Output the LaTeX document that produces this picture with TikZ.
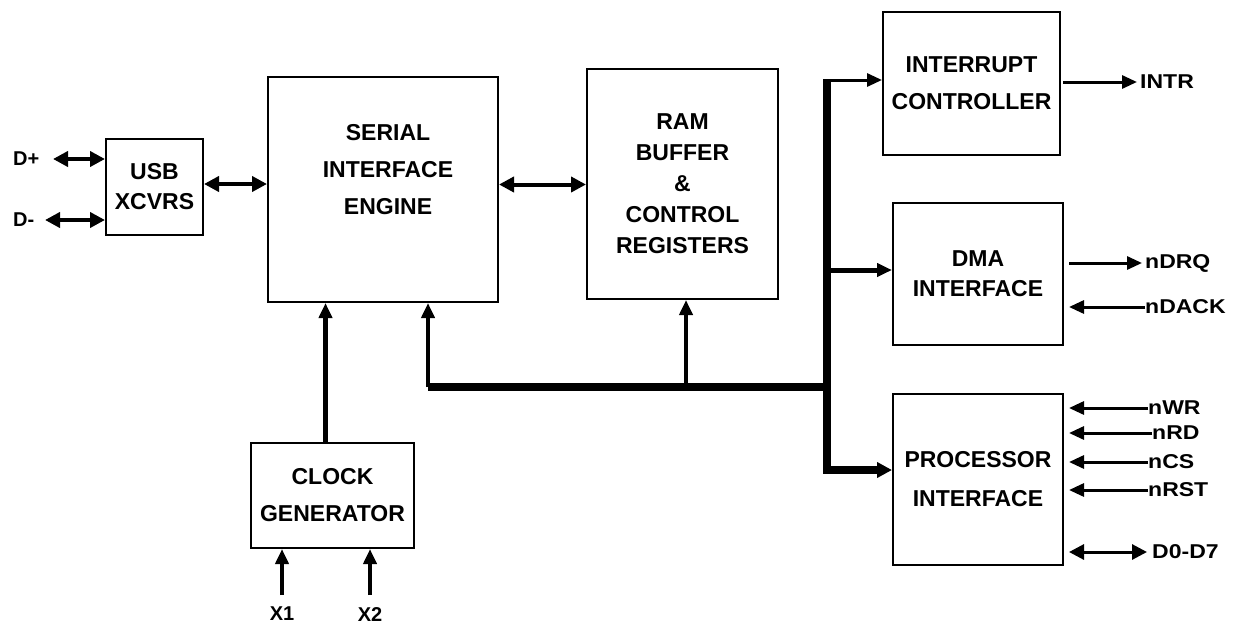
\documentclass[tikz,border=0pt]{standalone}
\usepackage{fontspec}
\setmainfont{Liberation Sans}
\newfontfamily\widefont[FakeStretch=1.15]{Liberation Sans}
\usetikzlibrary{arrows.meta,positioning,calc}

\begin{document}
\begin{tikzpicture}[x=1pt, y=-1pt,
    block/.style={draw, line width=2pt, inner sep=0pt},
    boxtext/.style={align=center, inner sep=0pt, font=\bfseries\fontsize{23}{#1}\selectfont},
    lbl/.style={anchor=west, inner sep=0pt, font=\bfseries\fontsize{20}{24}\selectfont},
    rlbl/.style={anchor=west, inner sep=0pt, font=\widefont\bfseries\fontsize{20}{24}\selectfont},
    sig/.style={line width=3pt, -{Triangle[length=15pt,width=13pt]}},
    dbl/.style={line width=4pt, {Triangle[length=15pt,width=15pt]}-{Triangle[length=15pt,width=15pt]}},
    bus/.style={line width=8pt}]
  \useasboundingbox (0,0) rectangle (1238,624);

  % blocks
  \node[block, boxtext=30, minimum width=97pt, minimum height=96pt] (usb) at (154.5,187) {USB\\XCVRS};
  \node[block, minimum width=230pt, minimum height=225pt] (sie) at (383,189.5) {};
  \node[boxtext=37] (sietxt) at (388,170) {SERIAL\\INTERFACE\\ENGINE};
  \node[block, boxtext=31, minimum width=191pt, minimum height=230pt] (ram) at (682.5,184) {RAM\\BUFFER\\\&\\CONTROL\\REGISTERS};
  \node[block, boxtext=37, minimum width=177pt, minimum height=143pt] (intc) at (971.5,83.5) {INTERRUPT\\CONTROLLER};
  \node[block, boxtext=30, minimum width=170pt, minimum height=142pt] (dma) at (978,274) {DMA\\INTERFACE};
  \node[block, boxtext=39, minimum width=170pt, minimum height=171pt] (proc) at (978,479.5) {PROCESSOR\\INTERFACE};
  \node[block, boxtext=37, minimum width=163pt, minimum height=105pt] (clk) at (332.5,495.5) {CLOCK\\GENERATOR};

  % pins
  \node[lbl] (dp) at (13,159) {D+};
  \node[lbl] (dm) at (13,220) {D-};
  \node[rlbl] (intr) at (1140,82) {INTR};
  \node[rlbl] (ndrq) at (1145,263) {nDRQ};
  \node[rlbl] (ndack) at (1145,307) {nDACK};
  \node[rlbl] (nwr) at (1148,408) {nWR};
  \node[rlbl] (nrd) at (1152,433) {nRD};
  \node[rlbl] (ncs) at (1148,462) {nCS};
  \node[rlbl] (nrst) at (1148,490) {nRST};
  \node[rlbl] (dbus) at (1152,552) {D0-D7};
  \node[lbl, anchor=north] (x1) at (282,607) {X1};
  \node[lbl, anchor=north] (x2) at (370,607) {X2};

  % internal bus
  \coordinate (bt) at (827,80);
  \coordinate (bd) at (827,270);
  \coordinate (bc) at (827,387);
  \coordinate (bb) at (827,470);
  \coordinate (bl) at (428,387);
  \coordinate (br) at (686,387);
  \draw[bus] (bl) -- (bc);
  \draw[bus, -{Triangle[length=15pt,width=15pt]}] (bt) -- (bb) -- (bb -| proc.west);
  \draw[sig] ([xshift=-4pt]bt) -- (bt -| intc.west);
  \draw[sig, line width=5pt] (bd) -- (bd -| dma.west);
  \draw[sig, line width=4pt] (bl) -- (bl |- sie.south);
  \draw[sig, line width=4pt] (br) -- (br |- ram.south);

  % data path
  \draw[dbl] ([xshift=40pt]dp.west) -- (usb.west |- dp.west);
  \draw[dbl] ([xshift=32pt]dm.west) -- (usb.west |- dm.west);
  \draw[dbl] ([yshift=3pt]usb.east) -- ([yshift=3pt]usb.east -| sie.west);
  \draw[dbl] ([yshift=5pt]sie.east) -- ([yshift=5pt]sie.east -| ram.west);

  % clock
  \draw[sig, line width=5pt] ([xshift=-7pt]clk.north) -- ([xshift=-7pt]clk.north |- sie.south);
  \draw[sig, line width=4pt] ([yshift=12pt]x1.north) -- (x1.north |- clk.south);
  \draw[sig, line width=4pt] ([yshift=12pt]x2.north) -- (x2.north |- clk.south);

  % outside signals
  \draw[sig] ([xshift=2pt]intc.east |- intr.west) -- ([xshift=-3pt]intr.west);
  \draw[sig] ([xshift=5pt]dma.east |- ndrq.west) -- ([xshift=-3pt]ndrq.west);
  \draw[sig] (ndack.west) -- ([xshift=5pt]dma.east |- ndack.west);
  \foreach \p in {nwr,nrd,ncs,nrst}
    \draw[sig] (\p.west) -- ([xshift=5pt]proc.east |- \p.west);
  \draw[dbl, line width=3pt] ([xshift=5pt]proc.east |- dbus.west) -- ([xshift=-5pt]dbus.west);
\end{tikzpicture}
\end{document}
